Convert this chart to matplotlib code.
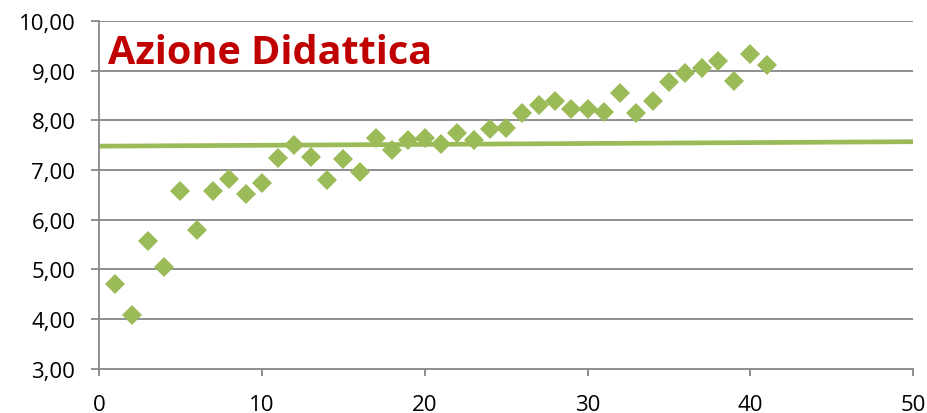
import numpy as np
import matplotlib.pyplot as plt

# valori
giorni = np.arange(1, 42)
voti = [4.70, 4.09, 5.57, 5.04, 6.58, 5.79, 6.58, 6.82, 6.51, 6.74,
        7.24, 7.51, 7.26, 6.79, 7.22, 6.97, 7.64, 7.41, 7.61, 7.64,
        7.52, 7.75, 7.61, 7.82, 7.85, 8.14, 8.30, 8.38, 8.23, 8.23,
        8.16, 8.56, 8.15, 8.38, 8.77, 8.95, 9.05, 9.20, 8.80, 9.34,
        9.12]
trend_x = [0, 50]
trend_y = [7.48, 7.57]
y_ticks = [3, 4, 5, 6, 7, 8, 9, 10]
x_ticks = [0, 10, 20, 30, 40, 50]

verde = '#9BBB59'
grigio = '#868686'

fig = plt.figure(figsize=(9.28, 4.14), dpi=100)
ax = fig.add_axes([99 / 928, 44.3 / 414, 814.3 / 928, 347.7 / 414])

ax.plot(trend_x, trend_y, color=verde, lw=3.4, zorder=2, solid_capstyle='butt')
ax.plot(giorni, voti, 'D', color=verde, ms=10, mew=0, zorder=3)

ax.set_xlim(0, 50)
ax.set_ylim(3, 10)
ax.set_xticks(x_ticks)
ax.set_yticks(y_ticks)
ax.set_yticklabels([('%.2f' % v).replace('.', ',') for v in y_ticks])

for v in y_ticks[1:]:
	ax.axhline(v, color=grigio, lw=1.3, zorder=1)

for s in ['top', 'right']:
	ax.spines[s].set_visible(False)
for s in ['left', 'bottom']:
	ax.spines[s].set_color(grigio)
	ax.spines[s].set_linewidth(1.3)

ax.tick_params(axis='both', colors=grigio, width=1.3,
	labelcolor='black', labelsize=16)
ax.tick_params(axis='x', length=5, pad=13)
ax.tick_params(axis='y', length=6, pad=11)
for lab in ax.get_xticklabels() + ax.get_yticklabels():
	lab.set_fontfamily('Open Sans')

ax.text(0.55, 9.15, 'Azione Didattica', color='#C00000', fontsize=28.5,
	fontweight='bold', family='Open Sans', va='baseline', ha='left')

fig.savefig('out.png', dpi=100)
